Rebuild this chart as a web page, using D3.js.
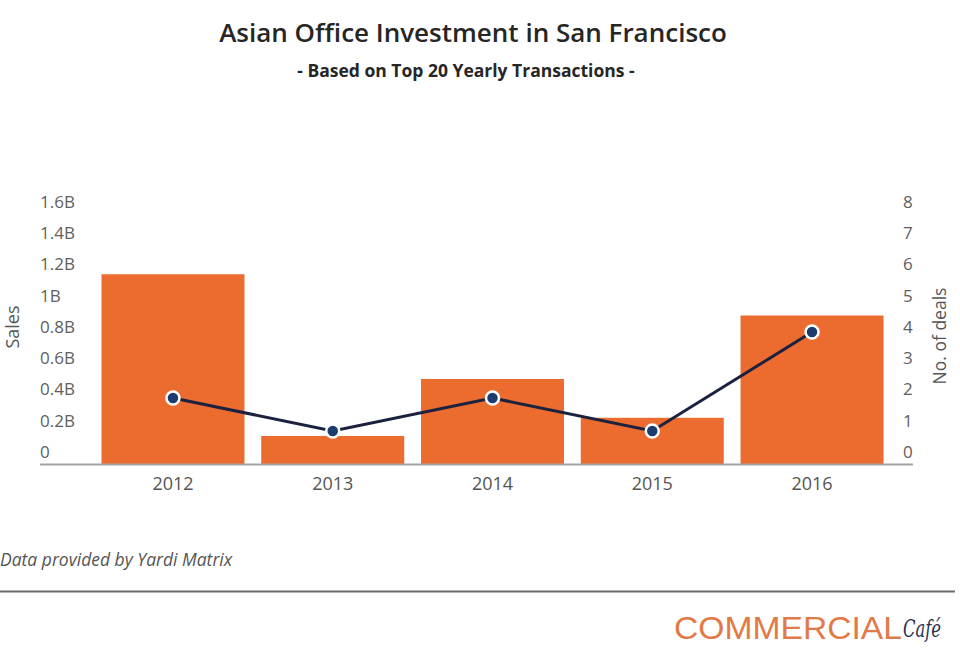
<!DOCTYPE html>
<html>
<head>
<meta charset="utf-8">
<script src="https://cdn.jsdelivr.net/npm/d3@7"></script>
<style>
  body { margin: 0; background: #fff; }
  svg { display: block; }
</style>
</head>
<body>
<svg id="chart" width="960" height="655"></svg>
<script>
// data
var years = ["2012", "2013", "2014", "2015", "2016"];
var sales = [1.15e9, 0.17e9, 0.515e9, 0.28e9, 0.90e9];   // bars, left axis
var deals = [2, 1, 2, 1, 4];                              // line, right axis
var salesTicks = [0, 0.2e9, 0.4e9, 0.6e9, 0.8e9, 1e9, 1.2e9, 1.4e9, 1.6e9];
var salesTickLabels = ["0", "0.2B", "0.4B", "0.6B", "0.8B", "1B", "1.2B", "1.4B", "1.6B"];
var dealTicks = [0, 1, 2, 3, 4, 5, 6, 7, 8];

var svg = d3.select("#chart");
var font = "'Open Sans', 'DejaVu Sans', sans-serif";

var plotBottom = 464, plotTop = 200;

var x = d3.scaleBand()
	.domain(years)
	.range([93, 892])
	.paddingInner(0.105)
	.paddingOuter(0.053);

var ySales = d3.scaleLinear().domain([0, 1.6e9]).range([plotBottom, plotTop]);
var yDeals = d3.scaleLinear().domain([0, 8]).range([plotBottom, plotTop]);

// tick labels sit a little above their grid positions in the original
var ySalesLbl = d3.scaleLinear().domain([0, 1.6e9]).range([452, 202]);
var yDealsLbl = d3.scaleLinear().domain([0, 8]).range([452, 202]);

// titles
svg.append("text")
	.attr("x", 473).attr("y", 42)
	.attr("text-anchor", "middle")
	.style("font-family", font).style("font-weight", 600)
	.style("font-size", "26px").attr("fill", "#262626")
	.text("Asian Office Investment in San Francisco");

svg.append("text")
	.attr("x", 466).attr("y", 77)
	.attr("text-anchor", "middle")
	.style("font-family", font).style("font-weight", 700)
	.style("font-size", "17.5px").attr("fill", "#262626")
	.text("- Based on Top 20 Yearly Transactions -");

// bars
svg.append("g").selectAll("rect")
	.data(years)
	.enter().append("rect")
	.attr("x", function(d) { return x(d); })
	.attr("width", x.bandwidth())
	.attr("y", function(d, i) { return ySales(sales[i]); })
	.attr("height", function(d, i) { return plotBottom - ySales(sales[i]); })
	.attr("fill", "#ec6b2e");

// x axis line + labels
svg.append("line")
	.attr("x1", 40).attr("x2", 913)
	.attr("y1", plotBottom + 0.5).attr("y2", plotBottom + 0.5)
	.attr("stroke", "#a3a3a3").attr("stroke-width", 2);

var xAxis = svg.append("g")
	.attr("transform", "translate(0," + plotBottom + ")")
	.call(d3.axisBottom(x).tickSize(0).tickPadding(13));
xAxis.select(".domain").remove();
xAxis.selectAll("text")
	.style("font-family", font).style("font-size", "18px").attr("fill", "#555");

// left axis
var yl = svg.append("g")
	.attr("transform", "translate(40,0)")
	.call(d3.axisRight(ySalesLbl).tickValues(salesTicks).tickSize(0).tickPadding(0)
		.tickFormat(function(d, i) { return salesTickLabels[i]; }));
yl.select(".domain").remove();
yl.selectAll("text")
	.style("font-family", font).style("font-size", "17px").attr("fill", "#606060");

// right axis
var yr = svg.append("g")
	.attr("transform", "translate(903,0)")
	.call(d3.axisRight(yDealsLbl).tickValues(dealTicks).tickSize(0).tickPadding(0)
		.tickFormat(d3.format("d")));
yr.select(".domain").remove();
yr.selectAll("text")
	.style("font-family", font).style("font-size", "17px").attr("fill", "#606060");

// axis titles
svg.append("text")
	.attr("transform", "translate(19,327) rotate(-90)")
	.attr("text-anchor", "middle")
	.style("font-family", font).style("font-size", "18px").attr("fill", "#555")
	.text("Sales");

svg.append("text")
	.attr("transform", "translate(946,336) rotate(-90)")
	.attr("text-anchor", "middle")
	.style("font-family", font).style("font-size", "17.5px").attr("fill", "#555")
	.text("No. of deals");

// deals line
var line = d3.line()
	.x(function(d, i) { return x(years[i]) + x.bandwidth() / 2; })
	.y(function(d) { return yDeals(d); });

svg.append("path")
	.datum(deals)
	.attr("d", line)
	.attr("fill", "none")
	.attr("stroke", "#1b2240")
	.attr("stroke-width", 3);

svg.append("g").selectAll("circle")
	.data(deals)
	.enter().append("circle")
	.attr("cx", function(d, i) { return x(years[i]) + x.bandwidth() / 2; })
	.attr("cy", function(d) { return yDeals(d); })
	.attr("r", 6.5)
	.attr("fill", "#1c3c70")
	.attr("stroke", "#fff")
	.attr("stroke-width", 2.5);

// footer
svg.append("text")
	.attr("x", 0).attr("y", 566)
	.style("font-family", font).style("font-style", "italic")
	.style("font-size", "17.5px").attr("fill", "#555")
	.text("Data provided by Yardi Matrix");

svg.append("line")
	.attr("x1", 0).attr("x2", 955)
	.attr("y1", 591.5).attr("y2", 591.5)
	.attr("stroke", "#6a6a6a").attr("stroke-width", 2);

svg.append("text")
	.attr("x", 674).attr("y", 639)
	.attr("textLength", 228).attr("lengthAdjust", "spacingAndGlyphs")
	.style("font-family", "'Liberation Sans Narrow', 'Liberation Sans', Arial, sans-serif")
	.style("font-size", "32px").attr("fill", "#e27a48")
	.text("COMMERCIAL");

svg.append("text")
	.attr("x", 903).attr("y", 637)
	.attr("textLength", 38).attr("lengthAdjust", "spacingAndGlyphs")
	.style("font-family", "'DejaVu Serif', serif").style("font-style", "italic")
	.style("font-size", "24px").attr("fill", "#2a3350")
	.text("Café");
</script>
</body>
</html>
